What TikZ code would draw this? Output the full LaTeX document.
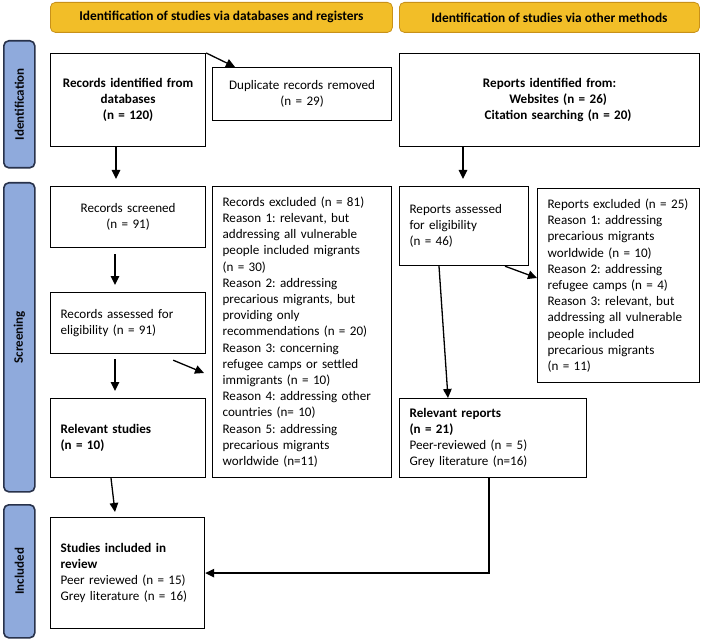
\documentclass[tikz,border=0pt]{standalone}
\usepackage{fontspec}
\setmainfont{Carlito}
\usetikzlibrary{arrows.meta,calc}
\hyphenpenalty=10000
\exhyphenpenalty=10000
\frenchspacing
\definecolor{hdrfill}{RGB}{242,190,40}
\definecolor{hdrdraw}{RGB}{200,145,25}
\definecolor{sidefill}{RGB}{143,170,220}
\definecolor{sidedraw}{RGB}{40,50,75}
\tikzset{
  txt/.style={font=\fontsize{13.1}{16.2}\selectfont},
  box/.style={draw=black, line width=1.2pt, anchor=north west, inner ysep=0pt, inner xsep=10pt, txt},
  lbox/.style={box, align=left},
  cbox/.style={box, align=center, inner xsep=4pt},
  hdr/.style={draw=hdrdraw, fill=hdrfill, line width=0.8pt, rounded corners=5pt, anchor=north west,
    font=\fontsize{13.4}{15}\selectfont\bfseries, inner sep=0pt},
  side/.style={draw=sidedraw, fill=sidefill, line width=1.6pt, rounded corners=5pt, anchor=north west, inner sep=0pt},
  sidetxt/.style={rotate=90, font=\fontsize{13}{15}\selectfont\bfseries, text=black!85!sidedraw},
  arr/.style={-{Triangle[length=9pt,width=8.5pt]}, line width=1.3pt}
}
\begin{document}
\frenchspacing
\begin{tikzpicture}[x=1pt,y=-1pt]
\useasboundingbox[fill=white] (0,0) rectangle (701,639);
% headers
\node[hdr, minimum width=342pt, minimum height=30pt] (hdrL) at (50,2) {Identification of studies via databases and registers};
\node[hdr, minimum width=300pt, minimum height=30pt] (hdrR) at (399,2) {Identification of studies via other methods};
% side labels
\node[side, minimum width=31pt, minimum height=127pt] (sideI) at (3,40) {};
\node[sidetxt] (sideIt) at (sideI.center) {Identification};
\node[side, minimum width=31pt, minimum height=309pt] (sideS) at (3,182) {};
\node[sidetxt] (sideSt) at (sideS.center) {Screening};
\node[side, minimum width=31pt, minimum height=133pt] (sideN) at (3,504) {};
\node[sidetxt] (sideNt) at (sideN.center) {Included};
% identification
\node[cbox, text width=147pt, minimum height=93pt] (rid) at (50,53) {\textbf{Records identified from}\\\textbf{databases}\\\textbf{(n = 120)}};
\node[cbox, text width=171pt, minimum height=53pt] (dup) at (212,67) {Duplicate records removed\\(n = 29)};
\node[cbox, text width=292pt, minimum height=93pt] (rpi) at (399,53) {\textbf{Reports identified from:}\\\hspace*{17pt}\textbf{Websites (n = 26)}\\\hspace*{17pt}\textbf{Citation searching (n = 20)}};
% screening left
\node[cbox, text width=147pt, minimum height=61pt] (scr) at (50,186) {Records screened\\(n = 91)};
\node[lbox, text width=135pt, minimum height=61pt] (ass) at (50,292) {Records assessed for\\eligibility (n = 91)};
\node[lbox, text width=135pt, minimum height=79pt] (rel) at (50,398) {\textbf{Relevant studies}\\\textbf{(n = 10)}};
\node[lbox, text width=159pt, minimum height=291pt] (exc) at (212,186) {Records excluded (n = 81)\\Reason 1: relevant, but\\addressing all vulnerable\\people included migrants\\(n = 30)\\Reason 2: addressing\\precarious migrants, but\\providing only\\recommendations (n = 20)\\Reason 3: concerning\\refugee camps or settled\\immigrants (n = 10)\\Reason 4: addressing other\\countries (n= 10)\\Reason 5: addressing\\precarious migrants\\worldwide (n=11)};
% screening right
\node[lbox, text width=109pt, minimum height=79pt] (rpa) at (399,186) {Reports assessed\\for eligibility\\(n = 46)};
\node[lbox, text width=142pt, minimum height=194pt] (rpe) at (537,188) {Reports excluded (n = 25)\\Reason 1: addressing\\precarious migrants\\worldwide (n = 10)\\Reason 2: addressing\\refugee camps (n = 4)\\Reason 3: relevant, but\\addressing all vulnerable\\people included\\precarious migrants\\(n = 11)};
\node[lbox, text width=167pt, minimum height=79pt] (rrp) at (399,398) {\textbf{Relevant reports}\\\textbf{(n = 21)}\\Peer-reviewed (n = 5)\\Grey literature (n=16)};
% included
\node[lbox, text width=134pt, minimum height=111pt] (inc) at (50,517) {\textbf{Studies included in}\\\textbf{review}\\Peer reviewed (n = 15)\\Grey literature (n = 16)};
% arrows
\draw[arr] (rid.north east) -- ($(dup.north west)+(23,0)$);
\draw[arr] ($(rid.south west)+(66,0)$) -- ($(scr.north west)+(66,-7)$);
\draw[arr] ($(scr.south west)+(65,6)$) -- ($(ass.north west)+(65,-7)$);
\draw[arr] ($(ass.south west)+(65,5)$) -- ($(rel.north west)+(65,-7)$);
\draw[arr] ($(ass.south east)+(-33,6)$) -- ($(exc.north west)+(-8,187)$);
\draw[arr] ($(rel.south west)+(61,0)$) -- ($(inc.north west)+(65,-5)$);
\draw[arr] ($(rpi.south west)+(64,0)$) -- ($(rpa.north west)+(64,-7)$);
\draw[arr] ($(rpa.south west)+(106,0)$) -- ($(rpe.north west)+(0,90)$);
\draw[arr] ($(rpa.south west)+(40,0)$) -- ($(rrp.north west)+(49,0)$);
\draw[arr] ($(rrp.south west)+(90,0)$) |- (inc.east);
\end{tikzpicture}
\end{document}
